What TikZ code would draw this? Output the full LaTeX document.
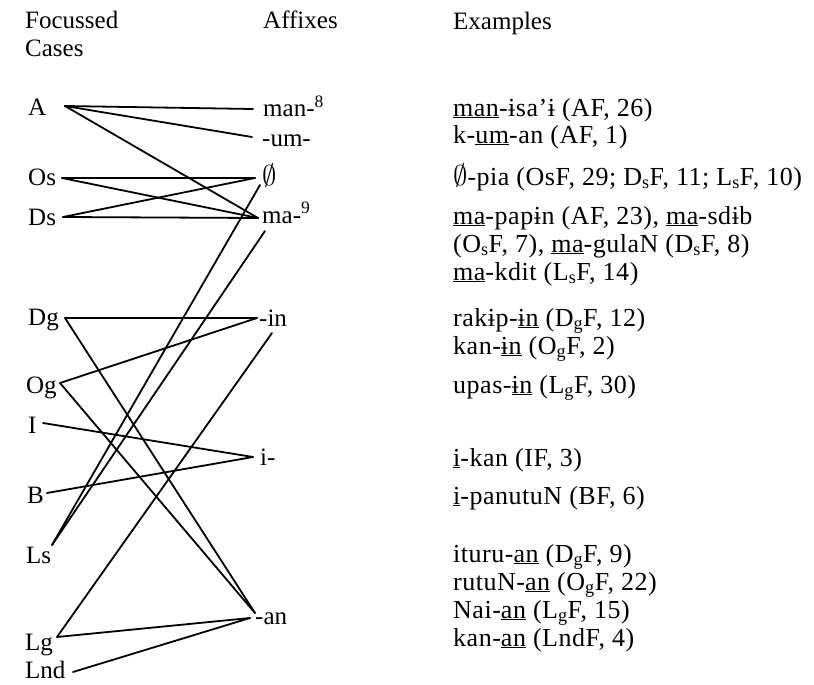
\documentclass[tikz,border=0pt]{standalone}
\usepackage{fontspec}
\setmainfont{Liberation Serif}
\newcommand{\bi}{ɨ}
\newcommand{\nullset}{\scalebox{1.15}{$\emptyset$}}
\begin{document}
\begin{tikzpicture}[x=1pt,y=-1pt,
  txt/.style={anchor=base west, inner sep=0pt, font=\fontsize{25}{28}\selectfont},
  ex/.style={anchor=base west, inner sep=0pt, font=\fontsize{26}{28}\selectfont\addfontfeatures{LetterSpace=2}},
  link/.style={line width=1.8pt, line cap=round}]
\useasboundingbox (0,0) rectangle (814,685);
% headers
\node[txt] (hfoc) at (25,29) {Focussed};
\node[txt] (hcas) at (25,57) {Cases};
\node[txt] (haff) at (263,29) {Affixes};
\node[txt] (hex) at (453,30) {Examples};
% case labels
\node[txt] (A) at (28,115) {A};
\node[txt] (Os) at (28,185) {Os};
\node[txt] (Ds) at (28,225) {Ds};
\node[txt] (Dg) at (28,325) {Dg};
\node[txt] (Og) at (26,393) {Og};
\node[txt] (I) at (28,433) {I};
\node[txt] (B) at (27,503) {B};
\node[txt] (Ls) at (26,563) {Ls};
\node[txt] (Lg) at (25,650) {Lg};
\node[txt] (Lnd) at (25,678) {Lnd};
% affix labels
\node[txt] (man) at (263,117) {man-\textsuperscript{8}};
\node[txt] (um) at (262,146) {-um-};
\node[txt] (zero) at (262,185) {\nullset};
\node[txt] (ma) at (262,223) {ma-\textsuperscript{9}};
\node[txt] (in) at (259,326) {-in};
\node[txt] (i) at (260,465) {i-};
\node[txt] (an) at (255,624) {-an};
% connector ends
\coordinate (cA) at (65,106);
\coordinate (cOs) at (62,178);
\coordinate (cDs) at (63,217);
\coordinate (cDg) at (65,318);
\coordinate (cOg) at (60,383);
\coordinate (cI) at (43,423);
\coordinate (cB) at (47,493);
\coordinate (cLs) at (52,545);
\coordinate (cLg) at (57,637);
\coordinate (cLnd) at (73,672);
\coordinate (eman) at (253,109);
\coordinate (eum) at (252,137);
\coordinate (ezero) at (255,178);
\coordinate (ezeroB) at (260,185);
\coordinate (ema) at (258,218);
\coordinate (emaB) at (265,231);
\coordinate (ein) at (257,318);
\coordinate (einB) at (272,333);
\coordinate (ei) at (253,457);
\coordinate (ean) at (250,618);
\coordinate (eanT) at (255,613);
% connectors
\draw[link] (cA) -- (eman);
\draw[link] (cA) -- (eum);
\draw[link] (cA) -- (ema);
\draw[link] (cOs) -- (ezero);
\draw[link] (cOs) -- (ema);
\draw[link] (cDs) -- (ezero);
\draw[link] (cDs) -- (ema);
\draw[link] (cDg) -- (ein);
\draw[link] (cDg) -- (eanT);
\draw[link] (cOg) -- (ein);
\draw[link] (cOg) -- (eanT);
\draw[link] (cI) -- (ei);
\draw[link] (cB) -- (ei);
\draw[link] (cLs) -- (ezeroB);
\draw[link] (cLs) -- (emaB);
\draw[link] (cLg) -- (einB);
\draw[link] (cLg) -- (ean);
\draw[link] (cLnd) -- (ean);
% examples
\node[ex] (x1) at (453,116) {\underline{man}-\bi sa’\bi{} (AF, 26)};
\node[ex] (x2) at (453,143) {k-\underline{um}-an (AF, 1)};
\node[ex] (x3) at (453,185) {\nullset-pia (OsF, 29; D\textsubscript{s}F, 11; L\textsubscript{s}F, 10)};
\node[ex] (x4) at (453,224) {\underline{ma}-pap\bi n (AF, 23), \underline{ma}-sd\bi b};
\node[ex] (x5) at (453,252) {(O\textsubscript{s}F, 7), \underline{ma}-gulaN (D\textsubscript{s}F, 8)};
\node[ex] (x6) at (453,280) {\underline{ma}-kdit (L\textsubscript{s}F, 14)};
\node[ex] (x7) at (453,326) {rak\bi p-\underline{\bi n} (D\textsubscript{g}F, 12)};
\node[ex] (x8) at (453,354) {kan-\underline{\bi n} (O\textsubscript{g}F, 2)};
\node[ex] (x9) at (453,393) {upas-\underline{\bi n} (L\textsubscript{g}F, 30)};
\node[ex] (x10) at (453,466) {\underline{i}-kan (IF, 3)};
\node[ex] (x11) at (453,504) {\underline{i}-panutuN (BF, 6)};
\node[ex] (x12) at (453,562) {ituru-\underline{an} (D\textsubscript{g}F, 9)};
\node[ex] (x13) at (453,590) {rutuN-\underline{an} (O\textsubscript{g}F, 22)};
\node[ex] (x14) at (453,618) {Nai-\underline{an} (L\textsubscript{g}F, 15)};
\node[ex] (x15) at (453,646) {kan-\underline{an} (LndF, 4)};
\end{tikzpicture}
\end{document}
